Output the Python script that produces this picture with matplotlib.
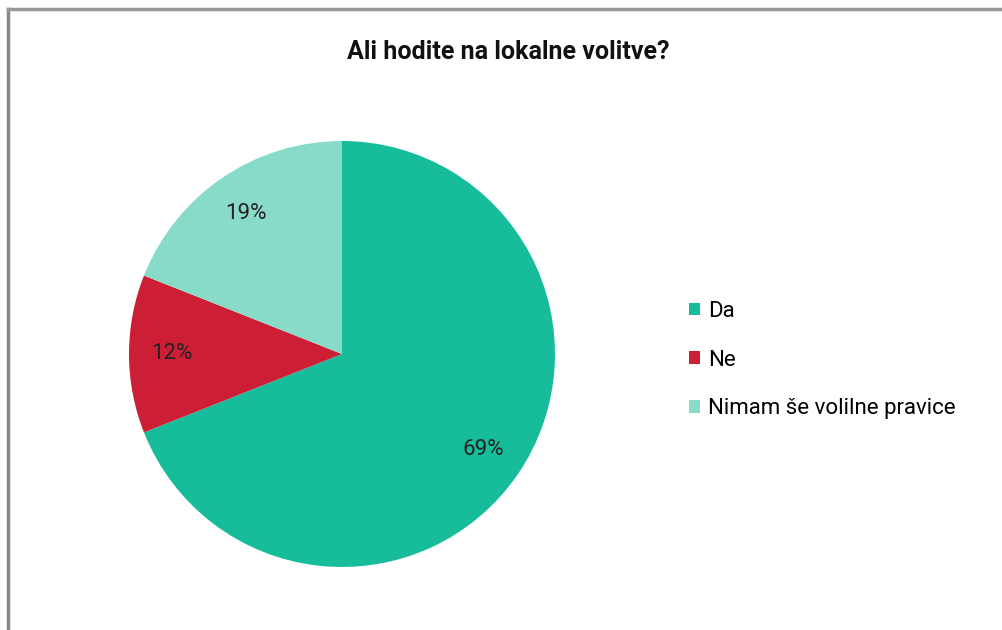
import matplotlib.pyplot as plt
from matplotlib.lines import Line2D

# data
labels = ['Da', 'Ne', 'Nimam še volilne pravice']
values = [69, 12, 19]
colors = ['#17BC9A', '#CC1F36', '#88DBC8']
title = 'Ali hodite na lokalne volitve?'

plt.rcParams['font.family'] = ['Roboto', 'DejaVu Sans']

fig = plt.figure(figsize=(10.03, 6.3), dpi=100)

# outer frame (only top and left are visible in the crop)
fig.add_artist(Line2D([8 / 1003, 8 / 1003], [0, 1 - 9 / 630],
                      transform=fig.transFigure, color='#888888', lw=2.5))
fig.add_artist(Line2D([8 / 1003, 1], [1 - 9 / 630, 1 - 9 / 630],
                      transform=fig.transFigure, color='#999999', lw=2.5))

ax = fig.add_axes([129 / 1003, 63 / 630, 426 / 1003, 426 / 630])
wedges, texts, autotexts = ax.pie(
    values, colors=colors, startangle=90, counterclock=False,
    autopct='%1.0f%%', pctdistance=0.8, radius=1,
    textprops={'fontsize': 16, 'color': '#222222'})
ax.set_xlim(-1, 1)
ax.set_ylim(-1, 1)
ax.set_aspect('equal')

fig.text(508 / 1003, 1 - 52 / 630, title, ha='center', va='center',
         fontsize=18, fontweight='bold', color='#111111')

fig.legend(wedges, labels, loc='center left',
           bbox_to_anchor=(669 / 1003, 1 - 360 / 630),
           frameon=False, fontsize=16, handlelength=0.5, handleheight=0.5,
           handletextpad=0.35, labelspacing=1.25)

fig.savefig('out.png', dpi=100)
